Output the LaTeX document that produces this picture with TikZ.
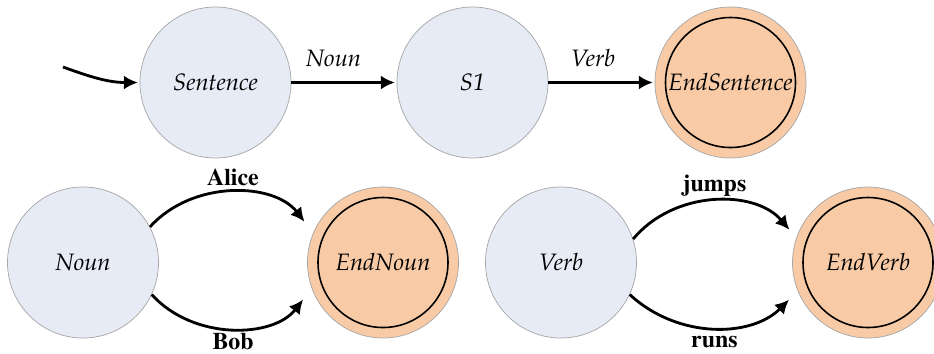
\documentclass[tikz,border=0pt]{standalone}
\usepackage[T1]{fontenc}
\usepackage{mathpazo}
\usetikzlibrary{arrows,arrows.meta}

\definecolor{stateblue}{RGB}{230,235,246}
\definecolor{stateorange}{RGB}{248,203,166}
\definecolor{stategray}{RGB}{165,165,165}

\begin{document}
\begin{tikzpicture}[ > = {Latex[length=2.8mm,width=2.8mm]}, state/.style = {circle, draw=stategray, thin, fill=stateblue, minimum size=3.02cm, inner sep=0pt, font=\fontsize{13.5}{16}\selectfont\itshape}, final/.style = {state, fill=stateorange}, trans/.style = {line width=1.6pt, ->, shorten >=1pt}, word/.style = {font=\fontsize{13.6}{16}\fontfamily{ptm}\selectfont\bfseries}, lbl/.style = {font=\fontsize{13.5}{16}\selectfont\itshape}]

    \useasboundingbox (0,0) rectangle (18.68,-7.06);

    % states
    \node[state] (sentence) at (4.31,-1.65) {Sentence};
    \node[state] (s1) at (9.45,-1.65) {S1};
    \node[final] (endsentence) at (14.61,-1.65) {EndSentence};
    \node[state] (noun) at (1.66,-5.25) {Noun};
    \node[final] (endnoun) at (7.66,-5.25) {EndNoun};
    \node[state] (verb) at (11.22,-5.25) {Verb};
    \node[final] (endverb) at (17.36,-5.25) {EndVerb};

    % inner rings of the final states
    \foreach \s in {endsentence, endnoun, endverb}
        \draw[line width=0.9pt] (\s.center) circle (1.3cm);

    % start
    \coordinate (start) at (1.26,-1.34);
    \draw[trans] (start) to[out=-20, in=180] (sentence.west);

    % top row
    \draw[trans] (sentence) -- (s1) node[lbl, above, pos=0.4, yshift=5pt] {Noun};
    \draw[trans] (s1) -- (endsentence) node[lbl, above, pos=0.42, yshift=5pt] {Verb};

    % bottom row
    \draw[trans, shorten >=8pt] (noun.28) to[bend left=50] node[word, above=0pt] {Alice} (endnoun.157);
    \draw[trans, shorten >=8pt] (noun.-25) to[bend right=50] node[word, below=-1pt] {Bob} (endnoun.200);
    \draw[trans, shorten >=6pt] (verb.18) to[bend left=50] node[word, above=-1pt] {jumps} (endverb.161);
    \draw[trans, shorten >=7pt] (verb.-25) to[bend right=44] node[word, below=1pt] {runs} (endverb.202);

\end{tikzpicture}
\end{document}
